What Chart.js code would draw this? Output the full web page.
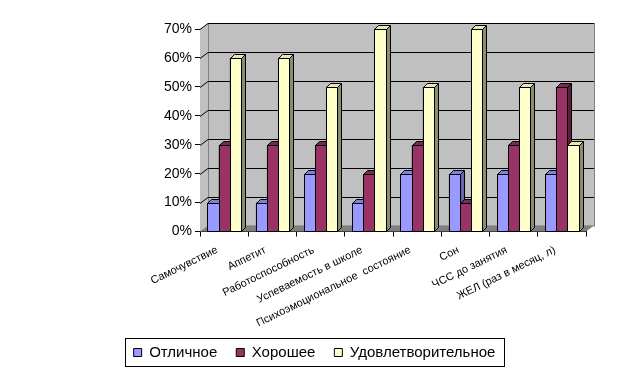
<!DOCTYPE html>
<html lang="ru">
<head>
  <meta charset="UTF-8" />
  <title>Оценка состояния</title>
  <script src="https://cdn.jsdelivr.net/npm/chart.js"></script>
  <style>
    body { margin: 0; background: #fff; }
    #wrap { width: 629px; height: 375px; }
  </style>
</head>
<body>
  <div id="wrap"><canvas id="chart" width="629" height="375"></canvas></div>

  <script>
    const categories = ['Самочувствие', 'Аппетит', 'Работоспособность', 'Успеваемость в школе',
      'Психоэмоциональное  состояние', 'Сон', 'ЧСС до занятия', 'ЖЕЛ (раз в месяц, л)'];
    const excellent = [10, 10, 20, 10, 20, 20, 20, 20];
    const good = [30, 30, 30, 20, 30, 10, 30, 50];
    const satisfactory = [60, 60, 50, 70, 50, 70, 50, 30];
    const yTicks = [0, 10, 20, 30, 40, 50, 60, 70];

    const fronts = ['#9999ff', '#993366', '#ffffcc'];
    const sides = ['#6666b0', '#5c1f3d', '#8c8c70'];
    const tops = ['#8080e0', '#7a2952', '#e6e6b8'];

    // wall depth and bar depth, px
    const WX = 8, WY = 6, BX = 4, BY = 4;

    const fakeDepth = {
      id: 'fakeDepth',
      beforeDatasetsDraw(chart) {
        const { ctx, chartArea: a, scales: { y } } = chart;
        ctx.save();
        ctx.lineWidth = 1;
        // left side wall
        ctx.fillStyle = '#c0c0c0';
        ctx.beginPath();
        ctx.moveTo(a.left, a.bottom); ctx.lineTo(a.left + WX, a.bottom - WY);
        ctx.lineTo(a.left + WX, a.top - WY); ctx.lineTo(a.left, a.top);
        ctx.closePath(); ctx.fill();
        // back wall
        ctx.fillRect(a.left + WX, a.top - WY, a.right - a.left, a.bottom - a.top);
        ctx.strokeStyle = '#808080';
        ctx.strokeRect(a.left + WX + 0.5, a.top - WY + 0.5, a.right - a.left, a.bottom - a.top);
        // floor
        ctx.fillStyle = '#808080';
        ctx.beginPath();
        ctx.moveTo(a.left, a.bottom); ctx.lineTo(a.right, a.bottom);
        ctx.lineTo(a.right + WX, a.bottom - WY); ctx.lineTo(a.left + WX, a.bottom - WY);
        ctx.closePath(); ctx.fill();
        // grid lines on the wall
        ctx.strokeStyle = '#000';
        yTicks.forEach(v => {
          if (v === 0) return;
          const py = Math.round(y.getPixelForValue(v)) + 0.5;
          ctx.beginPath();
          ctx.moveTo(a.left, py);
          ctx.lineTo(a.left + WX, py - WY);
          ctx.lineTo(a.right + WX, py - WY);
          ctx.stroke();
        });
        ctx.restore();
      },
      afterDatasetsDraw(chart) {
        const { ctx } = chart;
        const metas = [0, 1, 2].map(i => chart.getDatasetMeta(i));
        ctx.save();
        ctx.lineWidth = 1;
        ctx.strokeStyle = '#000';
        categories.forEach((c, j) => {
          metas.forEach((m, i) => {
            const b = m.data[j].getProps(['x', 'y', 'base', 'width'], true);
            const l = Math.round(b.x - b.width / 2) + 0.5;
            const r = Math.round(b.x + b.width / 2) + 0.5;
            const t = Math.round(b.y) + 0.5;
            const bot = Math.round(b.base) + 0.5;
            // front
            ctx.fillStyle = fronts[i];
            ctx.fillRect(l, t, r - l, bot - t);
            ctx.strokeRect(l, t, r - l, bot - t);
            // top
            ctx.fillStyle = tops[i];
            ctx.beginPath();
            ctx.moveTo(l, t); ctx.lineTo(l + BX, t - BY); ctx.lineTo(r + BX, t - BY); ctx.lineTo(r, t);
            ctx.closePath(); ctx.fill(); ctx.stroke();
            // side
            ctx.fillStyle = sides[i];
            ctx.beginPath();
            ctx.moveTo(r, t); ctx.lineTo(r + BX, t - BY); ctx.lineTo(r + BX, bot - BY); ctx.lineTo(r, bot);
            ctx.closePath(); ctx.fill(); ctx.stroke();
          });
        });
        ctx.restore();
      },
      afterDraw(chart) {
        const lg = chart.legend;
        const boxes = lg.legendHitBoxes;
        if (!boxes || !boxes.length) return;
        const first = boxes[0], last = boxes[boxes.length - 1];
        const { ctx } = chart;
        ctx.save();
        ctx.strokeStyle = '#000';
        ctx.lineWidth = 1;
        const x0 = Math.round(first.left) - 8.5, x1 = Math.round(last.left + last.width) + 9.5;
        const y0 = Math.round(first.top) - 6.5, y1 = Math.round(first.top + first.height) + 6.5;
        ctx.strokeRect(x0, y0, x1 - x0, y1 - y0);
        ctx.restore();
      }
    };

    Chart.defaults.font.family = '"Liberation Sans", Arial, sans-serif';
    Chart.defaults.color = '#000';

    new Chart(document.getElementById('chart'), {
      type: 'bar',
      data: {
        labels: categories,
        datasets: [
          { label: 'Отличное', data: excellent, backgroundColor: fronts[0], borderColor: '#000', borderWidth: 1 },
          { label: 'Хорошее', data: good, backgroundColor: fronts[1], borderColor: '#000', borderWidth: 1 },
          { label: 'Удовлетворительное', data: satisfactory, backgroundColor: fronts[2], borderColor: '#000', borderWidth: 1 }
        ]
      },
      options: {
        responsive: false,
        animation: false,
        layout: { padding: { left: 43, right: 43, top: 29, bottom: 5 } },
        datasets: { bar: { categoryPercentage: 0.69, barPercentage: 1 } },
        plugins: {
          tooltip: { enabled: false },
          legend: {
            position: 'bottom',
            labels: { boxWidth: 8, boxHeight: 8, padding: 19, font: { size: 15 }, color: '#000' }
          }
        },
        scales: {
          x: {
            grid: { offset: true, drawOnChartArea: false, tickLength: 5, color: '#000' },
            border: { color: '#000' },
            ticks: { autoSkip: false, minRotation: 26, maxRotation: 26, labelOffset: -7, font: { size: 11 }, color: '#000', padding: 7 },
            afterFit: s => { s.height -= 11; }
          },
          y: {
            min: 0, max: 70,
            grid: { drawOnChartArea: false, tickLength: 5, color: '#000' },
            border: { color: '#000' },
            ticks: { stepSize: 10, font: { size: 14 }, color: '#000', padding: 3, callback: v => v + '%' },
            afterFit: s => { s.width = 157; }
          }
        }
      },
      plugins: [fakeDepth]
    });
  </script>
</body>
</html>
